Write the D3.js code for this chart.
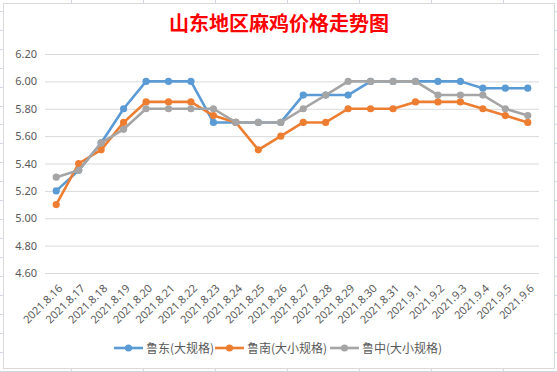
<!DOCTYPE html>
<html>
<head>
<meta charset="utf-8">
<script src="https://cdn.jsdelivr.net/npm/d3@7"></script>
<style>
  body { margin: 0; background: #fff; }
  svg { display: block; font-family: "Noto Sans CJK SC", "Noto Sans", sans-serif; }
</style>
</head>
<body>
<div class="container"></div>
<script>
const dates = ["2021.8.16", "2021.8.17", "2021.8.18", "2021.8.19", "2021.8.20", "2021.8.21",
  "2021.8.22", "2021.8.23", "2021.8.24", "2021.8.25", "2021.8.26", "2021.8.27", "2021.8.28",
  "2021.8.29", "2021.8.30", "2021.8.31", "2021.9.1", "2021.9.2", "2021.9.3", "2021.9.4",
  "2021.9.5", "2021.9.6"];
const ludong = [5.20, 5.35, 5.55, 5.80, 6.00, 6.00, 6.00, 5.70, 5.70, 5.70, 5.70, 5.90, 5.90,
  5.90, 6.00, 6.00, 6.00, 6.00, 6.00, 5.95, 5.95, 5.95];
const lunan = [5.10, 5.40, 5.50, 5.70, 5.85, 5.85, 5.85, 5.75, 5.70, 5.50, 5.60, 5.70, 5.70,
  5.80, 5.80, 5.80, 5.85, 5.85, 5.85, 5.80, 5.75, 5.70];
const luzhong = [5.30, 5.35, 5.55, 5.65, 5.80, 5.80, 5.80, 5.80, 5.70, 5.70, 5.70, 5.80, 5.90,
  6.00, 6.00, 6.00, 6.00, 5.90, 5.90, 5.90, 5.80, 5.75];
const seriesNames = ["鲁东(大规格)", "鲁南(大小规格)", "鲁中(大小规格)"];
const yTicks = [4.6, 4.8, 5.0, 5.2, 5.4, 5.6, 5.8, 6.0, 6.2];

const colors = ["#5B9BD5", "#ED7D31", "#A5A5A5"];
const series = [ludong, lunan, luzhong];

const W = 557, H = 372;
const svg = d3.select(".container").append("svg").attr("width", W).attr("height", H);

// spreadsheet behind the chart
const sheet = svg.append("g").attr("stroke", "#d0d7e5").attr("stroke-width", 1);
for (let sx = 71; sx < W; sx += 72) {
  sheet.append("line").attr("x1", sx + 0.5).attr("x2", sx + 0.5).attr("y1", 0).attr("y2", H);
}
for (let sy = 10.7; sy < H; sy += 18.96) {
  sheet.append("line").attr("x1", 0).attr("x2", W).attr("y1", Math.round(sy) + 0.5).attr("y2", Math.round(sy) + 0.5);
}

// chart area
svg.append("rect").attr("x", 3.5).attr("y", 3.5).attr("width", 551).attr("height", 365)
  .attr("fill", "#fff").attr("stroke", "#d9d9d9");

svg.append("text").attr("x", 279).attr("y", 31).attr("text-anchor", "middle")
  .attr("fill", "#ff0000").attr("font-size", 20).attr("font-weight", "bold")
  .text("山东地区麻鸡价格走势图");

const plotL = 45, plotR = 539, plotT = 54, plotB = 273;
const x = d3.scaleBand().domain(dates).range([plotL, plotR]);
const y = d3.scaleLinear().domain([4.6, 6.2]).range([plotB, plotT]);

const yAxis = svg.append("g").attr("transform", `translate(${plotL},0)`)
  .call(d3.axisLeft(y).tickValues(yTicks).tickFormat(d3.format(".2f")).tickSize(-(plotR - plotL)).tickPadding(8));
yAxis.select(".domain").remove();
yAxis.selectAll(".tick line").attr("stroke", "#d9d9d9");
yAxis.selectAll(".tick text").attr("fill", "#595959").attr("font-size", 11)
  .attr("font-family", "Noto Sans, sans-serif");

const xAxis = svg.append("g").attr("transform", `translate(0,${plotB})`)
  .call(d3.axisBottom(x).tickSize(0).tickPadding(0));
xAxis.select(".domain").remove();
xAxis.selectAll(".tick text")
  .attr("fill", "#595959").attr("font-size", 11).attr("font-family", "Noto Sans, sans-serif")
  .attr("text-anchor", "end").attr("dy", 0)
  .attr("transform", "translate(7,16) rotate(-45)");

const line = d3.line().x((d, i) => x(dates[i]) + x.bandwidth() / 2).y(d => y(d));

series.forEach((s, k) => {
  const g = svg.append("g");
  g.append("path").datum(s).attr("d", line).attr("fill", "none")
    .attr("stroke", colors[k]).attr("stroke-width", 2.6).attr("stroke-linejoin", "round");
  g.selectAll("circle").data(s).join("circle")
    .attr("cx", (d, i) => x(dates[i]) + x.bandwidth() / 2)
    .attr("cy", d => y(d))
    .attr("r", 3.6)
    .attr("fill", colors[k]);
});

// legend
const legendX = [114, 215, 330];
const legend = svg.append("g");
seriesNames.forEach((name, k) => {
  const g = legend.append("g").attr("transform", `translate(${legendX[k]},348)`);
  g.append("line").attr("x1", 0).attr("x2", 29).attr("stroke", colors[k]).attr("stroke-width", 2.6);
  g.append("circle").attr("cx", 14.5).attr("r", 3.6).attr("fill", colors[k]);
  g.append("text").attr("x", 32).attr("y", 4.5).attr("fill", "#595959").attr("font-size", 12).text(name);
});
</script>
</body>
</html>
